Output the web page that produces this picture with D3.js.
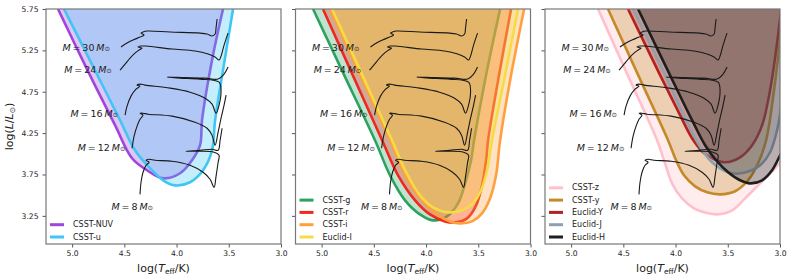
<!DOCTYPE html>
<html>
<head>
<meta charset="utf-8">
<script src="https://cdn.jsdelivr.net/npm/d3@7"></script>
<style>
  body { margin: 0; background: #fff; }
  text { font-family: "DejaVu Sans", sans-serif; fill: #222; }
</style>
</head>
<body>
<div class="chart"></div>
<script>
// axis ticks
var xTicks = [5.0, 4.5, 4.0, 3.5, 3.0];
var yTicks = [3.25, 3.75, 4.25, 4.75, 5.25, 5.75];

// evolutionary tracks [log Teff, log L]
var masses = [30, 24, 16, 12, 8];
var labelT = [4.637, 4.62, 4.56, 4.49, 4.225];
var labelL = [5.29, 5.02, 4.49, 4.08, 3.365];

var track30 = [[4.532,5.290],[4.474,5.338],[4.417,5.375],[4.350,5.411],[4.311,5.435],[4.340,5.459],[4.321,5.472],[4.283,5.484],[4.062,5.472],[3.775,5.459],[3.708,5.447],[3.660,5.423],[3.631,5.447],[3.622,5.520],[3.612,5.629]];
var track24 = [[4.541,5.011],[4.493,5.084],[4.445,5.157],[4.398,5.217],[4.359,5.254],[4.330,5.278],[4.369,5.290],[4.340,5.302],[4.292,5.302],[4.043,5.266],[3.823,5.242],[3.698,5.205],[3.631,5.169],[3.593,5.133],[3.574,5.181],[3.545,5.314],[3.507,5.459]];
var track16 = [[4.493,4.467],[4.474,4.576],[4.436,4.697],[4.388,4.781],[4.350,4.818],[4.378,4.830],[4.350,4.842],[4.302,4.830],[4.062,4.794],[3.871,4.745],[3.727,4.672],[3.660,4.600],[3.622,4.491],[3.593,4.588],[3.574,4.769],[3.593,4.866],[3.775,4.903],[3.966,4.915],[4.091,4.927],[3.919,4.921],[3.727,4.915],[3.602,4.903],[3.545,4.963],[3.507,5.048]];
var track12 = [[4.426,4.067],[4.407,4.212],[4.378,4.334],[4.350,4.418],[4.321,4.467],[4.350,4.491],[4.321,4.491],[4.273,4.479],[4.043,4.455],[3.823,4.382],[3.708,4.309],[3.660,4.225],[3.631,4.104],[3.602,4.261],[3.574,4.430],[3.545,4.588],[3.526,4.709]];
var track8 = [[4.350,3.510],[4.340,3.656],[4.321,3.777],[4.292,3.861],[4.263,3.898],[4.292,3.922],[4.263,3.934],[4.206,3.922],[4.043,3.910],[3.871,3.861],[3.746,3.777],[3.679,3.692],[3.641,3.595],[3.622,3.728],[3.602,3.898],[3.593,3.982],[3.641,4.019],[3.775,4.031],[3.909,4.031],[3.775,4.043],[3.660,4.055],[3.602,4.043],[3.583,4.164],[3.564,4.309]];
var tracks = [track30, track24, track16, track12, track8];

// detection limit curves per filter [log Teff, log L]
var nuvCurve = [[5.135,5.75],[4.867,5.048],[4.589,4.346],[4.426,3.946],[4.283,3.801],[4.129,3.704],[3.966,3.765],[3.852,3.922],[3.775,4.104],[3.756,4.406],[3.660,5.133],[3.555,5.75]];
var uCurve = [[5.078,5.75],[4.809,5.078],[4.541,4.406],[4.398,4.043],[4.254,3.825],[4.129,3.680],[4.014,3.619],[3.871,3.656],[3.746,3.801],[3.660,4.043],[3.631,4.406],[3.555,5.011],[3.459,5.75]];

var gCurve = [[5.082,5.75],[4.786,4.957],[4.489,4.164],[4.345,3.740],[4.201,3.438],[4.058,3.268],[3.933,3.196],[3.799,3.244],[3.694,3.401],[3.617,3.680],[3.569,3.922],[3.540,4.164],[3.435,4.890],[3.291,5.75]];
var rCurve = [[4.987,5.75],[4.704,4.957],[4.421,4.164],[4.268,3.740],[4.105,3.438],[3.962,3.268],[3.818,3.183],[3.722,3.171],[3.607,3.220],[3.521,3.377],[3.464,3.619],[3.425,3.922],[3.406,4.164],[3.310,4.890],[3.186,5.75]];
var iCurve = [[4.920,5.75],[4.633,4.957],[4.345,4.164],[4.201,3.740],[4.058,3.462],[3.895,3.268],[3.770,3.183],[3.674,3.159],[3.559,3.183],[3.464,3.280],[3.387,3.462],[3.330,3.740],[3.291,4.164],[3.195,4.890],[3.061,5.75]];
var euclidICurve = [[4.900,5.75],[4.613,4.957],[4.326,4.164],[4.201,3.801],[4.058,3.498],[3.933,3.353],[3.789,3.292],[3.655,3.317],[3.550,3.401],[3.473,3.559],[3.416,3.801],[3.368,4.164],[3.253,4.890],[3.119,5.75]];

var zCurve = [[4.742,5.75],[4.460,4.957],[4.177,4.164],[4.101,3.886],[4.034,3.643],[3.938,3.462],[3.823,3.341],[3.717,3.292],[3.602,3.268],[3.459,3.317],[3.334,3.462],[3.191,3.643],[3.047,3.825],[2.903,4.043],[2.760,4.285]];
var yCurve = [[4.647,5.75],[4.360,4.957],[4.072,4.164],[3.995,3.922],[3.919,3.740],[3.813,3.607],[3.698,3.535],[3.574,3.510],[3.430,3.547],[3.306,3.680],[3.210,3.886],[3.133,4.164],[3.057,4.769],[2.999,5.375],[2.961,5.75]];
var euclidYCurve = [[4.455,5.75],[4.148,4.951],[3.957,4.467],[3.842,4.188],[3.737,4.019],[3.631,3.934],[3.526,3.898],[3.382,3.958],[3.267,4.104],[3.171,4.346],[3.095,4.769],[3.037,5.254],[2.989,5.75]];
var euclidJCurve = [[4.407,5.75],[4.101,4.951],[3.899,4.406],[3.785,4.128],[3.670,3.922],[3.574,3.825],[3.459,3.765],[3.325,3.777],[3.191,3.861],[3.095,4.019],[3.028,4.285],[2.980,4.648]];
var euclidHCurve = [[4.359,5.75],[4.053,4.951],[3.842,4.406],[3.717,4.104],[3.612,3.922],[3.497,3.777],[3.382,3.680],[3.286,3.643],[3.171,3.680],[3.076,3.801],[2.999,3.982],[2.903,4.225]];

var panelNames = [["CSST-NUV", "CSST-u"], ["CSST-g", "CSST-r", "CSST-i", "Euclid-I"], ["CSST-z", "CSST-y", "Euclid-Y", "Euclid-J", "Euclid-H"]];
var panelColors = [["#9f45de", "#3ec6f4"], ["#2ca25f", "#f2281e", "#ffa03c", "#f5dc45"], ["#ffc0cb", "#c48a28", "#b22222", "#8da0b0", "#1e1e1e"]];
var panelCurves = [[nuvCurve, uCurve], [gCurve, rCurve, iCurve, euclidICurve], [zCurve, yCurve, euclidYCurve, euclidJCurve, euclidHCurve]];

var svgWidth = 793, svgHeight = 280;
var panelLeft = [46, 295.5, 545];
var panelW = 235;
var plotTop = 9, plotBottom = 244;

var svg = d3.select(".chart").append("svg")
  .attr("width", svgWidth)
  .attr("height", svgHeight);

var x = d3.scaleLinear().domain([5.25, 3.0]).range([0, panelW]);
var y = d3.scaleLinear().domain([2.91, 5.75]).range([plotBottom, plotTop]);

var line = d3.line()
  .x(d => x(d[0]))
  .y(d => y(d[1]))
  .curve(d3.curveCatmullRom.alpha(0.5));

panelLeft.forEach(function (left, p) {
  var g = svg.append("g").attr("transform", `translate(${left},0)`);

  g.append("clipPath").attr("id", "clip" + p)
    .append("rect").attr("x", 0).attr("y", plotTop).attr("width", panelW).attr("height", plotBottom - plotTop);

  var plot = g.append("g").attr("clip-path", `url(#clip${p})`);

  // filled regions and their boundary lines
  panelCurves[p].forEach(function (c, k) {
    var first = c[0], last = c[c.length - 1];
    var closing = `L${x(last[0])},${y(6.0)}L${x(first[0])},${y(6.0)}Z`;
    plot.append("path")
      .attr("d", line(c) + closing)
      .attr("fill", panelColors[p][k])
      .attr("fill-opacity", 0.3)
      .attr("stroke", "none");
    plot.append("path")
      .attr("d", line(c))
      .attr("fill", "none")
      .attr("stroke", panelColors[p][k])
      .attr("stroke-width", 2.6);
  });

  // tracks
  tracks.forEach(function (t) {
    plot.append("path")
      .attr("d", line(t))
      .attr("fill", "none")
      .attr("stroke", "#1a1a1a")
      .attr("stroke-width", 1.1)
      .attr("stroke-linejoin", "round");
  });

  // mass labels
  masses.forEach(function (m, i) {
    var t = g.append("text")
      .attr("x", x(labelT[i]))
      .attr("y", y(labelL[i]))
      .attr("text-anchor", "end")
      .attr("dominant-baseline", "central")
      .attr("font-size", "9.5px");
    t.append("tspan").attr("font-style", "italic").text("M");
    t.append("tspan").text("\u2009=\u2009" + m + "\u2009");
    t.append("tspan").attr("font-style", "italic").text("M");
    t.append("tspan").attr("font-size", "6.5px").attr("dy", 2).text("\u2299");
  });

  // axes
  var xAxis = g.append("g").attr("transform", `translate(0,${plotBottom})`)
    .call(d3.axisBottom(x).tickValues(xTicks).tickFormat(d3.format(".1f")).tickSize(3.5).tickPadding(3));
  var yAxis = g.append("g")
    .call(d3.axisLeft(y).tickValues(yTicks).tickFormat(p === 0 ? d3.format(".2f") : () => "").tickSize(3.5).tickPadding(4));
  [xAxis, yAxis].forEach(function (a) {
    a.select(".domain").remove();
    a.selectAll(".tick line").attr("stroke", "#555");
    a.selectAll(".tick text").attr("font-size", "7.6px").attr("fill", "#222")
      .style("font-family", "'DejaVu Sans', sans-serif");
  });

  g.append("rect")
    .attr("x", 0).attr("y", plotTop).attr("width", panelW).attr("height", plotBottom - plotTop)
    .attr("fill", "none").attr("stroke", "#777").attr("stroke-width", 1.2);

  // x label
  var xl = g.append("text")
    .attr("x", panelW / 2).attr("y", 272)
    .attr("text-anchor", "middle").attr("font-size", "11px");
  xl.append("tspan").text("log(");
  xl.append("tspan").attr("font-style", "italic").text("T");
  xl.append("tspan").attr("font-size", "7.5px").attr("dy", 2).text("eff");
  xl.append("tspan").attr("dy", -2).text("/K)");

  // legend
  var names = panelNames[p];
  var n = names.length;
  names.forEach(function (name, k) {
    var ly = 237 - (n - 1 - k) * 12.3;
    g.append("line")
      .attr("x1", 4).attr("x2", 18).attr("y1", ly).attr("y2", ly)
      .attr("stroke", panelColors[p][k]).attr("stroke-width", 3);
    g.append("text")
      .attr("x", 27).attr("y", ly)
      .attr("dominant-baseline", "central")
      .attr("font-size", "8px")
      .text(name);
  });
});

// y label
var yl = svg.append("text")
  .attr("transform", `translate(13,${(plotTop + plotBottom) / 2}) rotate(-90)`)
  .attr("text-anchor", "middle").attr("font-size", "11px");
yl.append("tspan").text("log(");
yl.append("tspan").attr("font-style", "italic").text("L");
yl.append("tspan").text("/");
yl.append("tspan").attr("font-style", "italic").text("L");
yl.append("tspan").attr("font-size", "7.5px").attr("dy", 2).text("\u2299");
yl.append("tspan").attr("dy", -2).text(")");
</script>
</body>
</html>
